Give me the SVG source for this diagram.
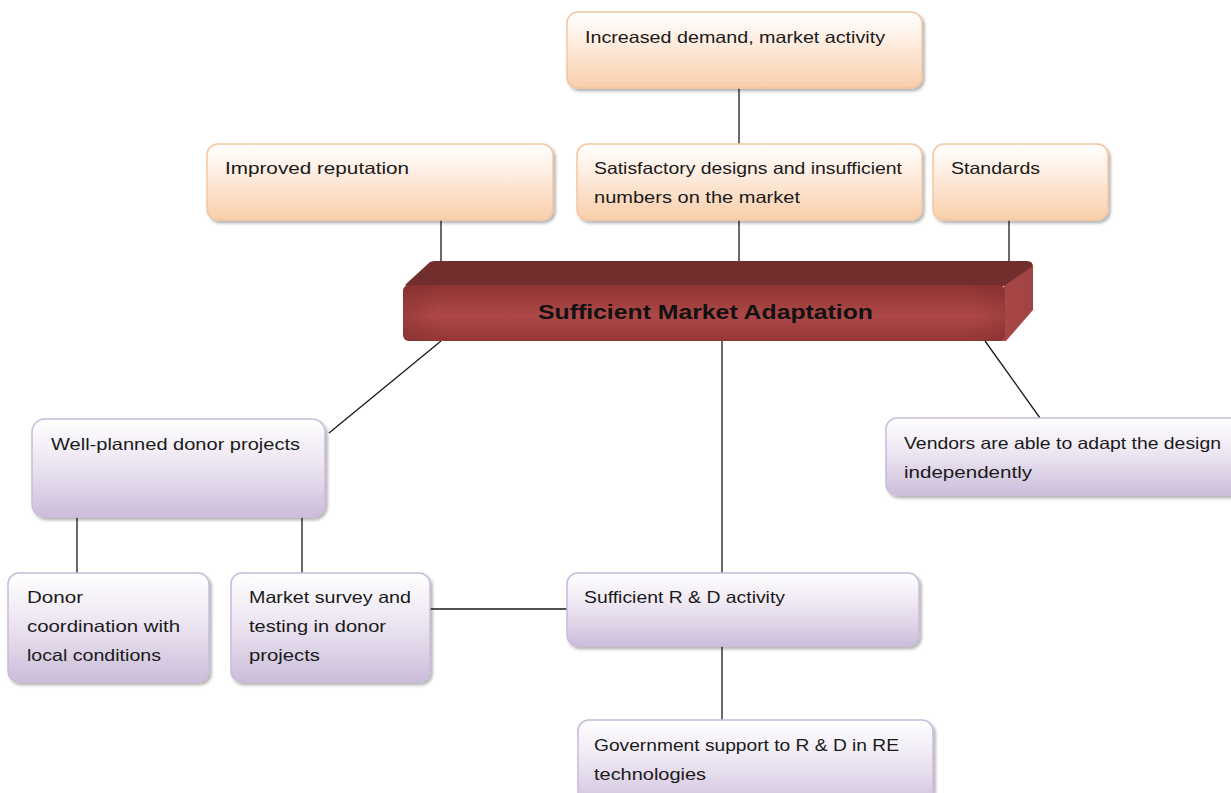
<svg xmlns="http://www.w3.org/2000/svg" width="1231" height="793" viewBox="0 0 1231 793">
<style>
.peach{fill:url(#gPeach);stroke:#F3C6A0;stroke-width:1.5;filter:url(#sh)}
.lilac{fill:url(#gLilac);stroke:#C9BBDA;stroke-width:1.5;filter:url(#sh)}
.t{font-family:"Liberation Sans",Arial,sans-serif;font-size:16.5px;fill:#1a1a1a}
.tb{font-family:"Liberation Sans",Arial,sans-serif;font-size:21px;font-weight:bold;fill:#111}
.c{stroke:#1a1a1a;stroke-width:1.3;fill:none}
</style>
<defs>
<linearGradient id="gPeach" x1="0" y1="0" x2="0" y2="1">
<stop offset="0" stop-color="#FFFFFF"/><stop offset="0.45" stop-color="#FDEADB"/><stop offset="1" stop-color="#F9CEAA"/>
</linearGradient>
<linearGradient id="gLilac" x1="0" y1="0" x2="0" y2="1">
<stop offset="0" stop-color="#FFFFFF"/><stop offset="0.45" stop-color="#EDE6F2"/><stop offset="1" stop-color="#CCBDDA"/>
</linearGradient>
<linearGradient id="gFront" x1="0" y1="0" x2="0" y2="1">
<stop offset="0" stop-color="#8E3333"/><stop offset="0.55" stop-color="#AE4848"/><stop offset="1" stop-color="#933636"/>
</linearGradient>
<linearGradient id="gFrontH" x1="0" y1="0" x2="1" y2="0">
<stop offset="0" stop-color="#7A2A2A" stop-opacity="0.35"/><stop offset="0.06" stop-color="#7A2A2A" stop-opacity="0"/><stop offset="0.94" stop-color="#7A2A2A" stop-opacity="0"/><stop offset="1" stop-color="#7A2A2A" stop-opacity="0.3"/>
</linearGradient>
<linearGradient id="gSide" x1="0" y1="0" x2="1" y2="0">
<stop offset="0" stop-color="#A84747"/><stop offset="1" stop-color="#A24343"/>
</linearGradient>
<filter id="sh" x="-5%" y="-10%" width="112%" height="130%">
<feDropShadow dx="2" dy="2.5" stdDeviation="1.6" flood-color="#000" flood-opacity="0.3"/>
</filter>
</defs>

<g id="connectors">
<line class="c" x1="739" y1="88" x2="739" y2="144"/>
<line class="c" x1="441" y1="220" x2="441" y2="263"/>
<line class="c" x1="739" y1="220" x2="739" y2="263"/>
<line class="c" x1="1009" y1="220" x2="1009" y2="263"/>
<line class="c" x1="441" y1="341" x2="329" y2="433"/>
<line class="c" x1="722" y1="341" x2="722" y2="573"/>
<line class="c" x1="985" y1="341" x2="1040" y2="418"/>
<line class="c" x1="77" y1="517" x2="77" y2="573"/>
<line class="c" x1="302" y1="515" x2="302" y2="573"/>
<line class="c" x1="430" y1="609" x2="568" y2="609"/>
<line class="c" x1="722" y1="646" x2="722" y2="720"/>
</g>

<g id="n-increased-demand">
<rect class="peach" x="567" y="12" width="355" height="76" rx="11"/>
<text class="t" x="585" y="43" textLength="300" lengthAdjust="spacingAndGlyphs">Increased demand, market activity</text>
</g>

<g id="n-improved-reputation">
<rect class="peach" x="207" y="144" width="346" height="76" rx="11"/>
<text class="t" x="225" y="174" textLength="184" lengthAdjust="spacingAndGlyphs">Improved reputation</text>
</g>

<g id="n-satisfactory-designs">
<rect class="peach" x="577" y="144" width="345" height="76" rx="11"/>
<text class="t" x="594" y="174" textLength="308" lengthAdjust="spacingAndGlyphs">Satisfactory designs and insufficient</text>
<text class="t" x="594" y="203" textLength="206" lengthAdjust="spacingAndGlyphs">numbers on the market</text>
</g>

<g id="n-standards">
<rect class="peach" x="933" y="144" width="175" height="76" rx="11"/>
<text class="t" x="951" y="174" textLength="89" lengthAdjust="spacingAndGlyphs">Standards</text>
</g>

<g id="n-sufficient-market-adaptation">
<path d="M434,261 L1027,261 Q1033,261 1033,267 L1008,286 L408,286 Q404,286 406,284 L430,262 Z" fill="#722D2D"/>
<path d="M1004,286 L1033,266 L1033,310 L1006,341 L1000,341 Z" fill="url(#gSide)"/>
<rect x="403" y="285" width="602" height="56" rx="6" fill="url(#gFront)"/>
<rect x="403" y="285" width="602" height="56" rx="6" fill="url(#gFrontH)"/>
<text class="tb" x="538" y="319" textLength="335" lengthAdjust="spacingAndGlyphs">Sufficient Market Adaptation</text>
</g>

<g id="n-well-planned">
<rect class="lilac" x="32" y="419" width="293" height="98" rx="13"/>
<text class="t" x="51" y="450" textLength="249" lengthAdjust="spacingAndGlyphs">Well-planned donor projects</text>
</g>

<g id="n-vendors">
<rect class="lilac" x="886" y="418" width="360" height="77" rx="11"/>
<text class="t" x="904" y="449" textLength="317" lengthAdjust="spacingAndGlyphs">Vendors are able to adapt the design</text>
<text class="t" x="904" y="478" textLength="128" lengthAdjust="spacingAndGlyphs">independently</text>
</g>

<g id="n-donor-coordination">
<rect class="lilac" x="8" y="573" width="201" height="109" rx="11"/>
<text class="t" x="27" y="603" textLength="56" lengthAdjust="spacingAndGlyphs">Donor</text>
<text class="t" x="27" y="632" textLength="153" lengthAdjust="spacingAndGlyphs">coordination with</text>
<text class="t" x="27" y="661" textLength="134" lengthAdjust="spacingAndGlyphs">local conditions</text>
</g>

<g id="n-market-survey">
<rect class="lilac" x="231" y="573" width="199" height="109" rx="11"/>
<text class="t" x="249" y="603" textLength="162" lengthAdjust="spacingAndGlyphs">Market survey and</text>
<text class="t" x="249" y="632" textLength="137" lengthAdjust="spacingAndGlyphs">testing in donor</text>
<text class="t" x="249" y="661" textLength="71" lengthAdjust="spacingAndGlyphs">projects</text>
</g>

<g id="n-rd-activity">
<rect class="lilac" x="567" y="573" width="352" height="73" rx="11"/>
<text class="t" x="584" y="603" textLength="201" lengthAdjust="spacingAndGlyphs">Sufficient R &amp; D activity</text>
</g>

<g id="n-government-support">
<rect class="lilac" x="578" y="720" width="355" height="90" rx="11"/>
<text class="t" x="594" y="751" textLength="305" lengthAdjust="spacingAndGlyphs">Government support to R &amp; D in RE</text>
<text class="t" x="594" y="780" textLength="112" lengthAdjust="spacingAndGlyphs">technologies</text>
</g>
</svg>
